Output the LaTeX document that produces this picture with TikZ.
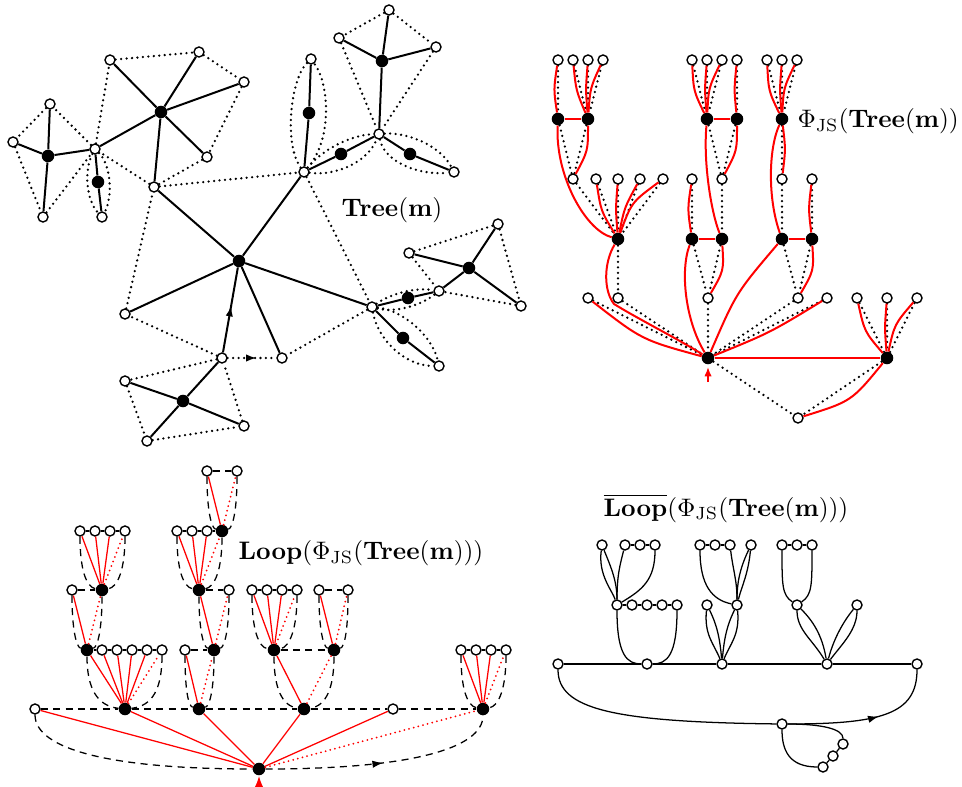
\documentclass[tikz,border=0pt]{standalone}
\usetikzlibrary{calc,arrows.meta,decorations.markings}
\newcommand\CurL[4]{\draw[#1] (#2) .. controls ($(#2)!0.5!(#3)!#4!90:(#3)$) .. (#3);}
\newcommand\CurR[4]{\draw[#1] (#2) .. controls ($(#2)!0.5!(#3)!#4!-90:(#3)$) .. (#3);}
\begin{document}
\begin{tikzpicture}[x=0.75pt,y=-0.75pt,
  wn/.style={circle,draw,fill=white,line width=1.05pt,minimum size=7.5pt,inner sep=0pt},
  bn/.style={circle,fill=black,minimum size=9.4pt,inner sep=0pt},
  sol/.style={line width=1.5pt},
  dts/.style={line width=1.9pt,line cap=round,dash pattern=on 0pt off 4.1pt},
  redl/.style={red,line width=1.5pt},
  rthin/.style={red,line width=0.95pt},
  rdot/.style={red,line width=1.5pt,line cap=round,dash pattern=on 0pt off 3.6pt},
  dsh/.style={line width=0.95pt,dash pattern=on 5.3pt off 4pt},
  thn/.style={line width=0.95pt},
  lbl/.style={scale=1.9, inner sep=0pt},
  midarrow/.style={postaction={decorate},decoration={markings,mark=at position #1 with {\arrow{Latex[length=8pt,width=5.5pt]}}}},
]
\useasboundingbox (0,0) rectangle (962,787);

% ================= TOP LEFT: Tree(m) =================
\node[wn] (A1) at (110,60) {};
\node[wn] (A2) at (199,52) {};
\node[wn] (A3) at (244,82) {};
\node[bn] (B1) at (161,112) {};
\node[wn] (A4) at (207,157) {};
\node[wn] (A5) at (154,187) {};
\node[wn] (C) at (95,149) {};
\node[bn] (D) at (48,156) {};
\node[wn] (D1) at (50,104) {};
\node[wn] (D2) at (13,142) {};
\node[wn] (D3) at (43,217) {};
\node[bn] (E) at (98,182) {};
\node[wn] (E1) at (102,217) {};
\node[wn] (F) at (304,172) {};
\node[bn] (G) at (309,113) {};
\node[wn] (G1) at (311,59) {};
\node[bn] (H) at (341,154) {};
\node[wn] (I) at (379,134) {};
\node[bn] (J) at (382,61) {};
\node[wn] (J1) at (389,10) {};
\node[wn] (J2) at (339,38) {};
\node[wn] (J3) at (436,47) {};
\node[bn] (K) at (410,154) {};
\node[wn] (K1) at (454,172) {};
\node[bn] (Ctr) at (239,261) {};
\node[wn] (L1) at (125,314) {};
\node[wn] (M) at (222,358) {};
\node[bn] (N) at (183,401) {};
\node[wn] (N1) at (125,381) {};
\node[wn] (N2) at (244,426) {};
\node[wn] (N3) at (147,441) {};
\node[wn] (O) at (282,358) {};
\node[wn] (P) at (372,307) {};
\node[bn] (Q) at (408,298) {};
\node[wn] (R) at (439,291) {};
\node[bn] (S) at (469,268) {};
\node[wn] (S1) at (409,253) {};
\node[wn] (S2) at (498,224) {};
\node[wn] (S3) at (521,306) {};
\node[bn] (T) at (403,338) {};
\node[wn] (T1) at (439,366) {};
\node[lbl] (tlab) at (392,210) {$\mathbf{Tree}(\mathbf{m})$};

\foreach \a/\b in {B1/A1,B1/A2,B1/A3,B1/A4,B1/A5,B1/C,C/D,D/D1,D/D2,D/D3,C/E,E/E1,A5/Ctr,
  F/Ctr,F/G,G/G1,F/H,H/I,I/J,J/J1,J/J2,J/J3,I/K,K/K1,Ctr/L1,M/N,N/N1,N/N2,N/N3,Ctr/O,Ctr/P,
  P/Q,Q/R,R/S,S/S1,S/S2,S/S3,P/T,T/T1}
  \draw[sol] (\a) -- (\b);
\draw[sol,midarrow=0.55] (M) -- (Ctr);
\foreach \a/\b in {A1/A2,A2/A3,A3/A4,A4/A5,A5/C,C/A1,D1/D2,D2/D3,D3/C,C/D1,A5/F,F/P,P/O,M/L1,L1/A5,
  J1/J2,J1/J3,J2/I,J3/I,S1/S2,S2/S3,S3/R,S1/R,M/N1,N1/N3,N3/N2,N2/M}
  \draw[dts] (\a) -- (\b);
\draw[dts,midarrow=0.6] (M) -- (O);
\draw[dts] (C) .. controls (84,170) and (86,200) .. (E1);
\draw[dts] (C) .. controls (111,165) and (113,197) .. (E1);
\draw[dts] (F) .. controls (284,145) and (290,80) .. (G1);
\draw[dts] (F) .. controls (332,140) and (330,85) .. (G1);
\draw[dts] (F) .. controls (322,150) and (350,135) .. (I);
\draw[dts] (F) .. controls (332,176) and (366,165) .. (I);
\draw[dts] (I) .. controls (406,132) and (440,145) .. (K1);
\draw[dts] (I) .. controls (384,162) and (420,176) .. (K1);
\draw[dts] (P) .. controls (390,294) and (415,287) .. (R);
\draw[dts] (P) .. controls (394,313) and (420,306) .. (R);
\draw[dts] (P) .. controls (378,340) and (405,366) .. (T1);
\draw[dts] (P) .. controls (402,310) and (432,335) .. (T1);

% ================= TOP RIGHT: Phi_JS(Tree(m)) =================
\node[wn] (W1) at (558,60) {};
\node[wn] (W2) at (573,60) {};
\node[wn] (W3) at (588,60) {};
\node[wn] (W4) at (603,60) {};
\node[bn] (Ba) at (558,119) {};
\node[bn] (Bb) at (588,119) {};
\node[wn] (X1) at (573,179) {};
\node[wn] (X2) at (596,179) {};
\node[wn] (X3) at (618,179) {};
\node[wn] (X4) at (640,179) {};
\node[wn] (X5) at (663,179) {};
\node[bn] (Y) at (618,239) {};
\node[wn] (Z1) at (588,298) {};
\node[wn] (Z2) at (618,298) {};
\node[bn] (Rt) at (708,358) {};
\node[wn] (M1) at (692,60) {};
\node[wn] (M2) at (707,60) {};
\node[wn] (M3) at (722,60) {};
\node[wn] (M4) at (737,60) {};
\node[bn] (Ma) at (707,119) {};
\node[bn] (Mb) at (737,119) {};
\node[wn] (U1) at (692,179) {};
\node[wn] (U2) at (722,179) {};
\node[bn] (Ua) at (692,239) {};
\node[bn] (Ub) at (722,239) {};
\node[wn] (Z3) at (708,298) {};
\node[wn] (V1) at (767,60) {};
\node[wn] (V2) at (782,60) {};
\node[wn] (V3) at (797,60) {};
\node[bn] (Va) at (782,119) {};
\node[wn] (rV4) at (782,179) {};
\node[wn] (rV5) at (812,179) {};
\node[bn] (rVa2) at (782,239) {};
\node[bn] (rVb2) at (812,239) {};
\node[wn] (Z4) at (798,298) {};
\node[wn] (Z5) at (827,298) {};
\node[wn] (Z6) at (857,298) {};
\node[wn] (Z7) at (887,298) {};
\node[wn] (Z8) at (917,298) {};
\node[bn] (Rb) at (887,358) {};
\node[wn] (Zb) at (798,418) {};
\node[lbl,anchor=west] (trlab) at (797,121) {$\Phi_{\mathrm{JS}}(\mathbf{Tree}(\mathbf{m}))$};

\foreach \a/\b in {W1/Ba,W2/Bb,W3/Bb,W4/Bb,Ba/X1,Bb/X1,X1/Y,X2/Y,X3/Y,X4/Y,X5/Y,Y/Z2,Z2/Rt,Z1/Rt,
  M1/Ma,M2/Ma,M3/Ma,M4/Mb,Ma/U2,Mb/U2,U1/Ua,U2/Ub,Ua/Z3,Ub/Z3,Z3/Rt,
  V1/Va,V2/Va,V3/Va,Va/rV4,rV4/rVa2,rV5/rVb2,rVa2/Z4,rVb2/Z4,Z4/Rt,Z5/Rt,
  Z6/Rb,Z7/Rb,Z8/Rb,Rb/Zb,Rt/Zb}
  \draw[dts] (\a) -- (\b);

\CurL{redl}{Ba}{W1}{0.15}
\CurL{redl}{Bb}{W2}{0.15}
\CurL{redl}{Bb}{W3}{0.08}
\CurL{redl}{Bb}{W4}{0.18}
\draw[redl] (Ba) -- (Bb);
\draw[redl] (Ba) .. controls (555,175) and (585,230) .. (Y);
\CurR{redl}{X1}{Bb}{0.25}
\CurL{redl}{Y}{X2}{0.2}
\CurL{redl}{Y}{X3}{0.08}
\CurL{redl}{Y}{X4}{0.15}
\CurL{redl}{Y}{X5}{0.3}
\draw[redl] (Y) .. controls (604,262) and (603,290) .. (614,304) .. controls (640,320) and (680,340) .. (Rt);
\CurL{redl}{Rt}{Z1}{0.2}
\CurL{redl}{Ma}{M1}{0.2}
\CurL{redl}{Ma}{M2}{0.08}
\CurL{redl}{Ma}{M3}{0.2}
\CurL{redl}{Mb}{M4}{0.1}
\draw[redl] (Ma) -- (Mb);
\draw[redl] (Ma) .. controls (703,165) and (712,215) .. (Ub);
\CurR{redl}{U2}{Mb}{0.25}
\CurL{redl}{Ua}{U1}{0.15}
\draw[redl] (Ua) -- (Ub);
\draw[redl] (Ua) .. controls (680,270) and (685,320) .. (Rt);
\CurR{redl}{Z3}{Ub}{0.3}
\CurL{redl}{Va}{V1}{0.2}
\CurL{redl}{Va}{V2}{0.08}
\CurL{redl}{Va}{V3}{0.2}
\CurR{redl}{rV4}{Va}{0.12}
\draw[redl] (Va) .. controls (768,150) and (768,200) .. (rVa2);
\CurL{redl}{rVb2}{rV5}{0.12}
\draw[redl] (rVa2) -- (rVb2);
\CurR{redl}{Z4}{rVb2}{0.3}
\CurL{redl}{Rt}{rVa2}{0.15}
\CurR{redl}{Rt}{Z5}{0.08}
\draw[redl] (Rt) -- (Rb);
\CurL{redl}{Rb}{Z6}{0.25}
\CurL{redl}{Rb}{Z7}{0.08}
\CurL{redl}{Rb}{Z8}{0.25}
\CurR{redl}{Zb}{Rb}{0.3}
\coordinate (ra1) at (708,382);
\coordinate (ra2) at (708,367);
\draw[red,line width=1.1pt,-{Latex[length=7pt,width=5.5pt]}] (ra1) -- (ra2);

% ================= BOTTOM LEFT: Loop =================
\node[wn] (a1) at (207,471) {};
\node[wn] (a2) at (237,471) {};
\node[bn] (ab) at (222,531) {};
\node[wn] (b1) at (80,531) {};
\node[wn] (b2) at (95,531) {};
\node[wn] (b3) at (110,531) {};
\node[wn] (b4) at (125,531) {};
\node[wn] (c1) at (177,531) {};
\node[wn] (c2) at (192,531) {};
\node[wn] (c3) at (207,531) {};
\node[wn] (d1) at (72,590) {};
\node[bn] (db) at (102,590) {};
\node[bn] (eb) at (199,590) {};
\node[wn] (e1) at (229,590) {};
\node[wn] (f1) at (252,590) {};
\node[wn] (f2) at (267,590) {};
\node[wn] (f3) at (282,590) {};
\node[wn] (f4) at (297,590) {};
\node[wn] (g1) at (319,590) {};
\node[wn] (g2) at (348,590) {};
\node[bn] (hb) at (87,650) {};
\node[wn] (h1) at (102,650) {};
\node[wn] (h2) at (117,650) {};
\node[wn] (h3) at (132,650) {};
\node[wn] (h4) at (147,650) {};
\node[wn] (h5) at (162,650) {};
\node[wn] (i1) at (185,650) {};
\node[bn] (ib) at (214,650) {};
\node[bn] (jb) at (274,650) {};
\node[bn] (kb) at (334,650) {};
\node[wn] (l1) at (461,650) {};
\node[wn] (l2) at (476,650) {};
\node[wn] (l3) at (491,650) {};
\node[wn] (l4) at (506,650) {};
\node[wn] (m0) at (35,709) {};
\node[bn] (mb1) at (125,709) {};
\node[bn] (mb2) at (199,709) {};
\node[bn] (mb3) at (304,709) {};
\node[wn] (m4) at (393,709) {};
\node[bn] (mb5) at (483,709) {};
\node[bn] (rt2) at (259,769) {};
\node[lbl] (bllab) at (361,553) {$\mathbf{Loop}(\Phi_{\mathrm{JS}}(\mathbf{Tree}(\mathbf{m})))$};

\foreach \a/\b in {a1/a2,b1/b2,b2/b3,b3/b4,c1/c2,c2/c3,c3/ab,d1/db,eb/e1,f1/f2,f2/f3,f3/f4,g1/g2,
  hb/h1,h1/h2,h2/h3,h3/h4,h4/h5,i1/ib,jb/kb,l1/l2,l2/l3,l3/l4,m0/mb1,mb1/mb2,mb2/mb3,mb3/m4,m4/mb5}
  \draw[dsh] (\a) -- (\b);
\foreach \c/\p/\dx in {a1/ab/-11,a2/ab/11,b1/db/-16,b4/db/16,d1/hb/-11,db/hb/11,hb/mb1/-28,h5/mb1/28,
  c1/eb/-16,ab/eb/16,eb/ib/-11,e1/ib/11,i1/mb2/-11,ib/mb2/11,f1/jb/-16,f4/jb/16,g1/kb/-11,g2/kb/11,
  jb/mb3/-22,kb/mb3/22,l1/mb5/-16,l4/mb5/16}
  \draw[dsh] (\c) .. controls +(0,38) and +(\dx,-3) .. (\p);
\draw[dsh] (m0) .. controls +(0,40) and +(-150,0) .. (rt2);
\draw[dsh,midarrow=0.5] (rt2) .. controls +(150,0) and +(0,40) .. (mb5);

\foreach \a/\b in {rt2/m0,rt2/mb1,rt2/mb2,rt2/mb3,rt2/m4,mb1/hb,mb1/h1,mb1/h2,mb1/h3,mb1/h4,hb/d1,
  db/b1,db/b2,db/b3,mb2/i1,ib/eb,eb/c1,eb/c2,eb/c3,ab/a1,mb3/jb,jb/f1,jb/f2,jb/f3,kb/g1,mb5/l1,mb5/l2,mb5/l3}
  \draw[rthin] (\a) -- (\b);
\foreach \a/\b in {rt2/mb5,mb1/h5,hb/db,db/b4,mb2/ib,ib/e1,eb/ab,ab/a2,mb3/kb,jb/f4,kb/g2,mb5/l4}
  \draw[rdot] (\a) -- (\b);
\coordinate (rb1) at (259,790);
\coordinate (rb2) at (259,776);
\draw[red,line width=1.1pt,-{Latex[length=9pt,width=7pt]}] (rb1) -- (rb2);

% ================= BOTTOM RIGHT: Loop bar =================
\node[wn] (p1) at (602,545) {};
\node[wn] (p2) at (625,545) {};
\node[wn] (p3) at (640,545) {};
\node[wn] (p4) at (655,545) {};
\node[wn] (q1) at (700,545) {};
\node[wn] (q2) at (715,545) {};
\node[wn] (q3) at (730,545) {};
\node[wn] (q4) at (751,545) {};
\node[wn] (s1) at (782,545) {};
\node[wn] (s2) at (797,545) {};
\node[wn] (s3) at (812,545) {};
\node[wn] (t1) at (617,605) {};
\node[wn] (t2) at (632,605) {};
\node[wn] (t3) at (647,605) {};
\node[wn] (t4) at (662,605) {};
\node[wn] (t5) at (677,605) {};
\node[wn] (u1) at (707,605) {};
\node[wn] (u2) at (737,605) {};
\node[wn] (v1) at (797,605) {};
\node[wn] (v2) at (857,605) {};
\node[wn] (w1) at (558,664) {};
\node[wn] (w2) at (647,664) {};
\node[wn] (w3) at (722,664) {};
\node[wn] (w4) at (827,664) {};
\node[wn] (w5) at (917,664) {};
\node[wn] (x0) at (782,724) {};
\node[wn] (y1) at (843,744) {};
\node[wn] (y2) at (833,756) {};
\node[wn] (y3) at (823,767) {};
\node[lbl] (brlab) at (726,508) {$\overline{\mathbf{Loop}}(\Phi_{\mathrm{JS}}(\mathbf{Tree}(\mathbf{m})))$};

\foreach \a/\b in {w1/w2,w2/w3,w3/w4,w4/w5,p2/p3,p3/p4,q1/q2,q2/q3,s1/s2,s2/s3,
  t1/t2,t2/t3,t3/t4,t4/t5,y1/y2,y2/y3}
  \draw[thn] (\a) -- (\b);
\draw[thn] (w1) .. controls +(0,45) and +(-170,-2) .. (x0);
\draw[thn,midarrow=0.58] (x0) .. controls +(100,0) and +(0,50) .. (w5);
\draw[thn] (x0) .. controls +(40,0) and +(0,-15) .. (y1);
\draw[thn] (y3) .. controls +(-35,0) and +(0,25) .. (x0);
\draw[thn] (t1) .. controls +(0,50) and +(-20,0) .. (w2);
\draw[thn] (t5) .. controls +(0,50) and +(20,0) .. (w2);
\draw[thn] (p1) .. controls +(-4,30) and +(-5,-15) .. (t1);
\draw[thn] (p1) .. controls +(8,20) and +(0,-25) .. (t1);
\draw[thn] (p2) .. controls +(-5,20) and +(0,-30) .. (t1);
\draw[thn] (p4) .. controls +(0,35) and +(25,-15) .. (t1);
\draw[thn] (u1) .. controls +(-3,30) and +(-8,-20) .. (w3);
\draw[thn] (u1) .. controls +(10,20) and +(-2,-25) .. (w3);
\draw[thn] (u2) .. controls +(-10,20) and +(2,-25) .. (w3);
\draw[thn] (u2) .. controls +(3,30) and +(8,-20) .. (w3);
\draw[thn] (q1) .. controls +(0,40) and +(-25,-5) .. (u2);
\draw[thn] (q3) .. controls +(3,25) and +(0,-25) .. (u2);
\draw[thn] (q4) .. controls +(-12,25) and +(0,-20) .. (u2);
\draw[thn] (q4) .. controls +(-3,30) and +(5,-20) .. (u2);
\draw[thn] (s1) .. controls +(0,40) and +(-15,-10) .. (v1);
\draw[thn] (s3) .. controls +(0,40) and +(15,-10) .. (v1);
\draw[thn] (v1) .. controls +(0,25) and +(-15,-25) .. (w4);
\draw[thn] (v1) .. controls +(15,15) and +(-5,-30) .. (w4);
\draw[thn] (v2) .. controls +(-10,12) and +(8,-30) .. (w4);
\draw[thn] (v2) .. controls +(0,25) and +(15,-20) .. (w4);
\end{tikzpicture}
\end{document}
